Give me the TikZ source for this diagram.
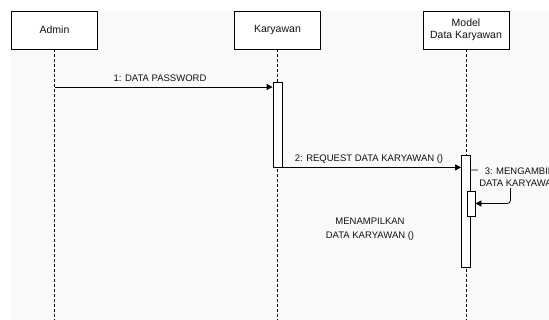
\documentclass[tikz,border=0pt]{standalone}
\usepackage{fontspec}
\setmainfont{Liberation Sans}
\usepackage{tikz}
\usetikzlibrary{arrows.meta,calc,positioning}
\definecolor{bgfill}{HTML}{F9F9F9}
\definecolor{ink}{HTML}{111111}
\tikzstyle{line}=[draw,line width=0.8pt]
\tikzstyle{head}=[draw, fill=white, line width=0.8pt, minimum width=86pt, minimum height=38pt, inner sep=0pt, align=center, text=ink, font=\fontsize{10.5}{12.5}\selectfont]
\tikzstyle{life}=[draw, line width=0.7pt, dash pattern=on 3pt off 2pt]
\tikzstyle{act}=[draw, fill=white, line width=0.8pt, minimum width=9pt, inner sep=0pt]
\tikzstyle{msg}=[draw, line width=0.8pt, -{Triangle[length=6pt,width=6pt]}]
\tikzstyle{lbl}=[inner sep=1pt, align=center, text=ink, font=\fontsize{9.5}{12.5}\selectfont]

\begin{document}
\begin{tikzpicture}[x=1pt,y=-1pt]
\useasboundingbox (0,0) rectangle (549,320);
\fill[bgfill] (11,11) rectangle (549,320);
% objects
\node[head](admin) at (54.5,30){Admin};
\node[head](kary) at (277.5,30){Karyawan};
\node[head](model) at (466,30){Model\\[-1pt]Data Karyawan};
% lifelines
\draw[life] (admin.south) -- ++(0,271);
\draw[life] (kary.south) -- ++(0,271);
\draw[life] (model.south) -- ++(0,271);
% activations
\node[act, minimum height=85pt](actk) at (277.5,124.5){};
\node[act, minimum height=112pt](actm) at (466,211){};
\node[act, minimum width=8pt, minimum height=25pt](actn) at (471,203.5){};
% messages
\coordinate (m1) at (54.5,87);
\draw[msg] (m1) -- (m1 -| actk.west);
\node[lbl](one) at (160,78){1: DATA PASSWORD};
\draw[msg] (actk.south west) -- (actk.south west -| actm.west);
\node[lbl](two) at (369,159){2: REQUEST DATA KARYAWAN ()};
\coordinate (s3) at (0,170);
\draw[msg, rounded corners=3pt] (actm.east |- s3) -| ($(actn.east)+(35,0)$) -- (actn.east);
\node[lbl, fill=bgfill](three) at (519,177){3: MENGAMBIL\\DATA KARYAWAN};
\node[lbl, font=\fontsize{9.5}{14}\selectfont](four) at (370,229.5){MENAMPILKAN\\DATA KARYAWAN ()};
\end{tikzpicture}
\end{document}
